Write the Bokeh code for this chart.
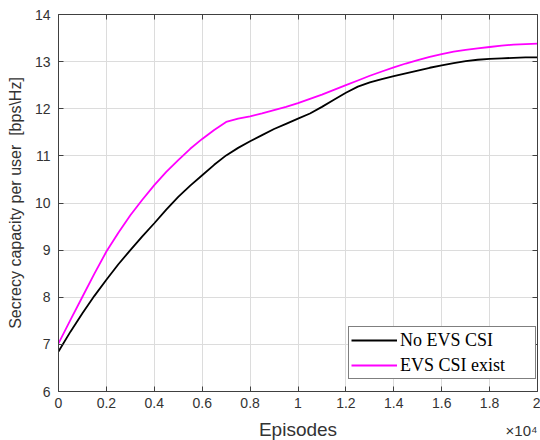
from bokeh.plotting import figure
from bokeh.models import Range1d, FixedTicker, LinearAxis, Legend, LegendItem, Title
from bokeh.embed import file_html
from bokeh.resources import INLINE

# ---- data ----
episodes = [0, 500, 1000, 1500, 2000, 2500, 3000, 3500, 4000, 4500, 5000,
            5500, 6000, 6500, 7000, 7500, 8000, 8500, 9000, 9500, 10000,
            10500, 11000, 11500, 12000, 12500, 13000, 13500, 14000, 14500, 15000,
            15500, 16000, 16500, 17000, 17500, 18000, 18500, 19000, 19500, 20000]
no_evs_csi = [6.85, 7.27, 7.66, 8.03, 8.37, 8.70, 9.00, 9.29, 9.57, 9.86, 10.13,
              10.37, 10.59, 10.81, 11.01, 11.17, 11.31, 11.44, 11.57, 11.68, 11.79,
              11.90, 12.04, 12.19, 12.34, 12.47, 12.56, 12.63, 12.69, 12.75, 12.81,
              12.87, 12.92, 12.97, 13.01, 13.04, 13.06, 13.07, 13.08, 13.09, 13.09]
evs_csi_exist = [7.02, 7.52, 8.01, 8.50, 8.97, 9.37, 9.74, 10.07, 10.38, 10.66, 10.91,
                 11.15, 11.36, 11.55, 11.72, 11.79, 11.84, 11.90, 11.97, 12.04, 12.12,
                 12.21, 12.30, 12.40, 12.50, 12.60, 12.70, 12.79, 12.88, 12.96, 13.03,
                 13.10, 13.16, 13.21, 13.25, 13.28, 13.31, 13.34, 13.36, 13.37, 13.38]
x_ticks = [0, 2000, 4000, 6000, 8000, 10000, 12000, 14000, 16000, 18000, 20000]
x_tick_labels = ["0", "0.2", "0.4", "0.6", "0.8", "1", "1.2", "1.4", "1.6", "1.8", "2"]
y_ticks = [6, 7, 8, 9, 10, 11, 12, 13, 14]
series_names = ["No EVS CSI", "EVS CSI exist"]
x_label = "Episodes"
exponent_text = "×10⁴"

AX = "#404040"
TXT = "#333333"
FONT = "Liberation Sans"

p = figure(width=540, height=440, output_backend="svg", toolbar_location=None,
           x_range=Range1d(0, 20000), y_range=Range1d(6, 14),
           min_border_left=58, min_border_right=3, min_border_top=14, min_border_bottom=49)
p.outline_line_color = None
p.background_fill_color = "white"
p.border_fill_color = "white"

# grid
for g in (p.xgrid, p.ygrid):
    g.grid_line_color = "#dcdcdc"
    g.grid_line_width = 1
p.xgrid.ticker = FixedTicker(ticks=x_ticks)
p.ygrid.ticker = FixedTicker(ticks=y_ticks)

def style_axis(ax, labels=True):
    ax.axis_line_color = AX
    ax.axis_line_width = 1
    ax.major_tick_line_color = AX
    ax.major_tick_in = 5
    ax.major_tick_out = 0
    ax.minor_tick_line_color = None
    ax.major_label_text_font = FONT
    if labels:
        ax.major_label_text_font_size = "14px"
        ax.major_label_text_color = TXT
    else:
        ax.major_label_text_font_size = "1px"
        ax.major_label_text_color = None
        ax.major_label_standoff = 0

xa = p.xaxis[0]
xa.ticker = FixedTicker(ticks=x_ticks)
xa.major_label_overrides = {t: l for t, l in zip(x_ticks, x_tick_labels)}
style_axis(xa)
xa.major_label_standoff = 6

ya = p.yaxis[0]
ya.ticker = FixedTicker(ticks=y_ticks)
style_axis(ya)
ya.major_label_standoff = 8
ya.axis_label = "Secrecy capacity per user \u00a0[bps\\Hz]"
ya.axis_label_text_font = FONT
ya.axis_label_text_font_style = "normal"
ya.axis_label_text_font_size = "16px"
ya.axis_label_text_color = TXT
ya.axis_label_standoff = 8

top = LinearAxis(ticker=FixedTicker(ticks=x_ticks))
style_axis(top, labels=False)
p.add_layout(top, "above")
right = LinearAxis(ticker=FixedTicker(ticks=y_ticks))
style_axis(right, labels=False)
p.add_layout(right, "right")

# bottom panel: spacer, "Episodes" and the x10^4 exponent (thin panels)
p.add_layout(Title(text=" ", text_font=FONT, text_font_size="10px",
                   standoff=3.5), "below")
p.add_layout(Title(text=x_label, align="center", vertical_align="bottom",
                   text_font=FONT, text_font_size="19px", text_font_style="normal",
                   text_color=TXT, standoff=-22), "below")
p.add_layout(Title(text=exponent_text, align="right", vertical_align="bottom",
                   text_font=FONT, text_font_size="15px", text_font_style="normal",
                   text_color=TXT, standoff=-18, offset=0), "below")

r1 = p.line(episodes, no_evs_csi, line_color="black", line_width=1.8)
r2 = p.line(episodes, evs_csi_exist, line_color="#ff00ff", line_width=1.8)

legend = Legend(items=[LegendItem(label=series_names[0], renderers=[r1]),
                       LegendItem(label=series_names[1], renderers=[r2])],
                location=(290, 12), margin=0, padding=2, spacing=3,
                glyph_width=46, glyph_height=22, label_height=22,
                label_width=133, label_standoff=3,
                label_text_font="Liberation Serif", label_text_font_size="18px",
                label_text_color="black",
                border_line_color="black", border_line_width=1,
                background_fill_color="white", background_fill_alpha=1)
p.add_layout(legend, "center")

open("out.html", "w").write(file_html(p, INLINE))
